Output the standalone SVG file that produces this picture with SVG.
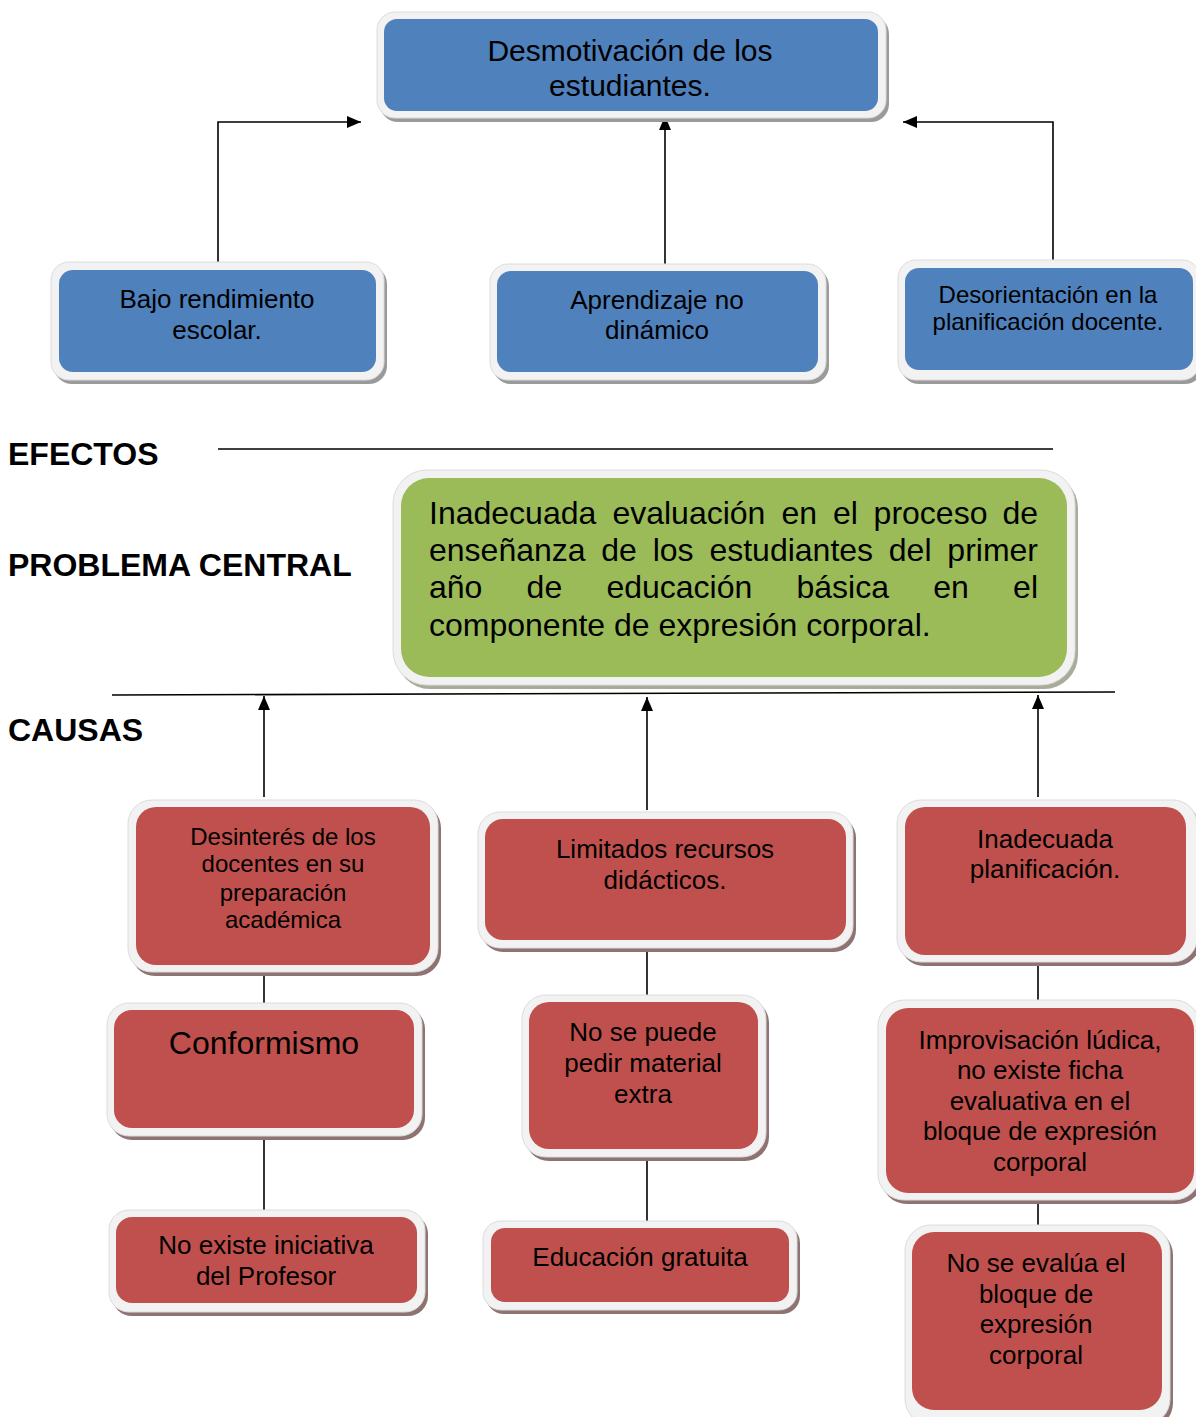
<svg xmlns="http://www.w3.org/2000/svg" width="1196" height="1417" viewBox="0 0 1196 1417">
<style>
text{font-family:"Liberation Sans",Arial,sans-serif;fill:#000}
.c{text-anchor:middle}
.lbl{font-weight:bold;font-size:32px}
.outer{fill:#f2f2f2;stroke:#dcdcdc;stroke-width:1}
.sb{fill:#9a9a9a}
.sr{fill:#8f7373}
.sg{fill:#a8ac98}
.blue{fill:#4f81bd}
.red{fill:#c0504d}
.green{fill:#9bbb59}
.ln{stroke:#000;stroke-width:1.6;fill:none}
</style>
<defs>
<marker id="ah" viewBox="0 0 14 12" refX="14" refY="6" markerWidth="14" markerHeight="12" markerUnits="userSpaceOnUse" orient="auto">
<path d="M0,0 L14,6 L0,12 z" fill="#000"/>
</marker>
</defs>
<rect width="1196" height="1417" fill="#fff"/>

<g id="connectors">
<path class="ln" d="M218,262 V122 H361" marker-end="url(#ah)"/>
<path class="ln" d="M665,266 V116" marker-end="url(#ah)"/>
<path class="ln" d="M1053,260 V122 H903" marker-end="url(#ah)"/>
<path class="ln" d="M218,449 H1053"/>
<path class="ln" d="M112,695 L1115,692"/>
<path class="ln" d="M264,797 V696" marker-end="url(#ah)"/>
<path class="ln" d="M647,810 V697" marker-end="url(#ah)"/>
<path class="ln" d="M1038,797 V695" marker-end="url(#ah)"/>
<path class="ln" d="M264,972 V1003"/>
<path class="ln" d="M264,1136 V1210"/>
<path class="ln" d="M647,948 V995"/>
<path class="ln" d="M647,1157 V1221"/>
<path class="ln" d="M1038,962 V1000"/>
<path class="ln" d="M1038,1200 V1225"/>
</g>

<g id="labels">
<text class="lbl" x="8" y="465">EFECTOS</text>
<text class="lbl" x="8" y="576">PROBLEMA CENTRAL</text>
<text class="lbl" x="8" y="741">CAUSAS</text>
</g>

<g id="n-desmotivacion">
<rect class="sb" x="380" y="16" width="509" height="106" rx="18"/>
<rect class="outer" x="377" y="12" width="509" height="106" rx="18"/>
<rect class="blue" x="384" y="19" width="494" height="92" rx="13"/>
<text class="c" x="630" y="61" font-size="30">Desmotivación de los</text>
<text class="c" x="630" y="96" font-size="30">estudiantes.</text>
</g>

<g id="n-bajo">
<rect class="sb" x="54" y="266" width="333" height="118" rx="18"/>
<rect class="outer" x="51" y="262" width="333" height="118" rx="18"/>
<rect class="blue" x="59" y="270" width="317" height="102" rx="14"/>
<text class="c" x="217" y="308" font-size="26">Bajo rendimiento</text>
<text class="c" x="217" y="339" font-size="26">escolar.</text>
</g>

<g id="n-aprendizaje">
<rect class="sb" x="493" y="268" width="336" height="116" rx="18"/>
<rect class="outer" x="490" y="264" width="336" height="116" rx="18"/>
<rect class="blue" x="497" y="271" width="321" height="101" rx="14"/>
<text class="c" x="657" y="309" font-size="26">Aprendizaje no</text>
<text class="c" x="657" y="339" font-size="26">dinámico</text>
</g>

<g id="n-desorientacion">
<rect class="sb" x="901" y="264" width="302" height="120" rx="18"/>
<rect class="outer" x="898" y="260" width="302" height="120" rx="18"/>
<rect class="blue" x="905" y="268" width="288" height="102" rx="14"/>
<text class="c" x="1048" y="303" font-size="24">Desorientación en la</text>
<text class="c" x="1048" y="330" font-size="24">planificación docente.</text>
</g>

<g id="n-problema">
<rect class="sg" x="396" y="474" width="682" height="215" rx="34"/>
<rect class="outer" x="393" y="470" width="682" height="215" rx="34"/>
<rect class="green" x="401" y="478" width="666" height="199" rx="28"/>
<g font-size="32">
<text x="429" y="524">Inadecuada</text><text x="612.4" y="524">evaluación</text><text x="781.5" y="524">en</text><text x="832.9" y="524">el</text><text x="873.6" y="524">proceso</text><text x="1038" y="524" text-anchor="end">de</text>
<text x="429" y="561">enseñanza</text><text x="601.3" y="561">de</text><text x="652.7" y="561">los</text><text x="709.4" y="561">estudiantes</text><text x="888.8" y="561">del</text><text x="1038" y="561" text-anchor="end">primer</text>
<text x="429" y="598">año</text><text x="526.6" y="598">de</text><text x="606.4" y="598">educación</text><text x="796.5" y="598">básica</text><text x="933.2" y="598">en</text><text x="1038" y="598" text-anchor="end">el</text>
<text x="429" y="636">componente de expresión corporal.</text>
</g>
</g>

<g id="n-desinteres">
<rect class="sr" x="131" y="804" width="310" height="172" rx="24"/>
<rect class="outer" x="128" y="800" width="310" height="172" rx="24"/>
<rect class="red" x="136" y="807" width="294" height="158" rx="20"/>
<text class="c" x="283" y="845" font-size="24">Desinterés de los</text>
<text class="c" x="283" y="872" font-size="24">docentes en su</text>
<text class="c" x="283" y="901" font-size="24">preparación</text>
<text class="c" x="283" y="928" font-size="24">académica</text>
</g>

<g id="n-conformismo">
<rect class="sr" x="110" y="1007" width="315" height="133" rx="22"/>
<rect class="outer" x="107" y="1003" width="315" height="133" rx="22"/>
<rect class="red" x="114" y="1010" width="300" height="118" rx="18"/>
<text class="c" x="264" y="1054" font-size="32">Conformismo</text>
</g>

<g id="n-iniciativa">
<rect class="sr" x="112" y="1214" width="316" height="102" rx="20"/>
<rect class="outer" x="109" y="1210" width="316" height="102" rx="20"/>
<rect class="red" x="116" y="1217" width="301" height="86" rx="16"/>
<text class="c" x="266" y="1254" font-size="26">No existe iniciativa</text>
<text class="c" x="266" y="1285" font-size="26">del Profesor</text>
</g>

<g id="n-limitados">
<rect class="sr" x="481" y="816" width="375" height="136" rx="22"/>
<rect class="outer" x="478" y="812" width="375" height="136" rx="22"/>
<rect class="red" x="485" y="819" width="361" height="121" rx="18"/>
<text class="c" x="665" y="858" font-size="26">Limitados recursos</text>
<text class="c" x="665" y="889" font-size="26">didácticos.</text>
</g>

<g id="n-nosepuede">
<rect class="sr" x="525" y="999" width="244" height="162" rx="24"/>
<rect class="outer" x="522" y="995" width="244" height="162" rx="24"/>
<rect class="red" x="529" y="1002" width="229" height="147" rx="20"/>
<text class="c" x="643" y="1041" font-size="26">No se puede</text>
<text class="c" x="643" y="1072" font-size="26">pedir material</text>
<text class="c" x="643" y="1103" font-size="26">extra</text>
</g>

<g id="n-gratuita">
<rect class="sr" x="486" y="1225" width="314" height="89" rx="18"/>
<rect class="outer" x="483" y="1221" width="314" height="89" rx="18"/>
<rect class="red" x="491" y="1228" width="298" height="74" rx="14"/>
<text class="c" x="640" y="1266" font-size="26">Educación gratuita</text>
</g>

<g id="n-planificacion">
<rect class="sr" x="900" y="804" width="300" height="162" rx="24"/>
<rect class="outer" x="897" y="800" width="300" height="162" rx="24"/>
<rect class="red" x="905" y="807" width="281" height="148" rx="20"/>
<text class="c" x="1045" y="848" font-size="26">Inadecuada</text>
<text class="c" x="1045" y="878" font-size="26">planificación.</text>
</g>

<g id="n-improvisacion">
<rect class="sr" x="881" y="1004" width="322" height="200" rx="26"/>
<rect class="outer" x="878" y="1000" width="322" height="200" rx="26"/>
<rect class="red" x="886" y="1008" width="308" height="185" rx="22"/>
<text class="c" x="1040" y="1049" font-size="26">Improvisación lúdica,</text>
<text class="c" x="1040" y="1079" font-size="26">no existe ficha</text>
<text class="c" x="1040" y="1110" font-size="26">evaluativa en el</text>
<text class="c" x="1040" y="1140" font-size="26">bloque de expresión</text>
<text class="c" x="1040" y="1171" font-size="26">corporal</text>
</g>

<g id="n-noseevalua">
<rect class="sr" x="908" y="1229" width="265" height="200" rx="26"/>
<rect class="outer" x="905" y="1225" width="265" height="200" rx="26"/>
<rect class="red" x="912" y="1232" width="250" height="178" rx="22"/>
<text class="c" x="1036" y="1272" font-size="26">No se evalúa el</text>
<text class="c" x="1036" y="1303" font-size="26">bloque de</text>
<text class="c" x="1036" y="1333" font-size="26">expresión</text>
<text class="c" x="1036" y="1364" font-size="26">corporal</text>
</g>
</svg>
